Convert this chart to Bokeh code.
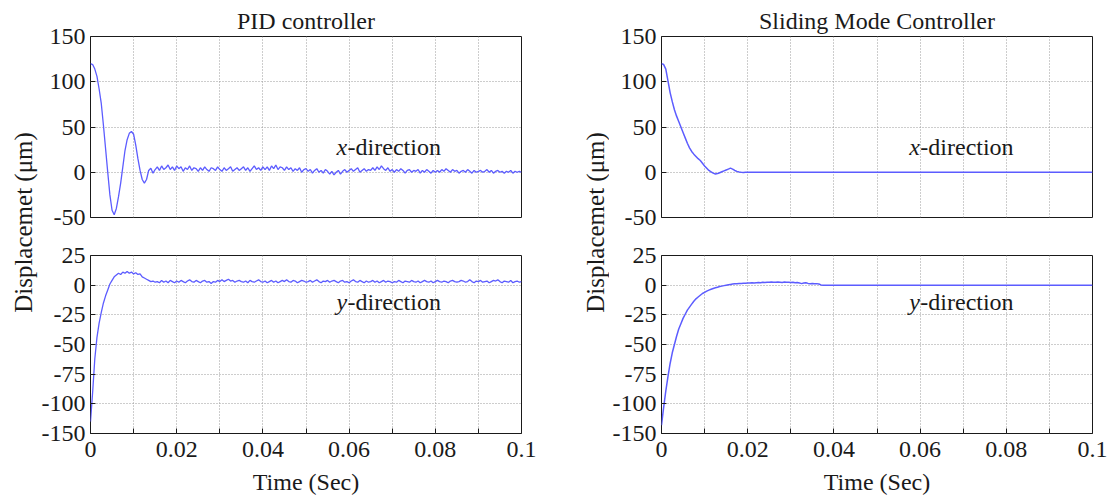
import math
from bokeh.plotting import figure
from bokeh.models import Range1d, FixedTicker, Label
from bokeh.layouts import row, column
from bokeh.embed import file_html
from bokeh.resources import INLINE

# ---------------- data ----------------
time_step = 0.0005  # sampling interval of the traces (s)

# PID controller, x-direction displacement (um), sampled every 0.5 ms from 0 to 0.1 s
pid_x = [120, 119, 114, 106, 92, 76, 52, 26, 0, -25, -42, -47, -40, -27, -12, 6, 24, 36, 43, 45,
         42, 30, 15, 2, -8, -12, -8, 2, 4.5, -1, 3,
         6, 2, 7, 3, 5, 8, 3, 6, 2, 7,
         4, 6, 1, 5, 3, 7, 2, 5, 4, 1,
         5, 2, 6, 3, 1, 5, 4, 2, 6, 3,
         1, 5, 2, 4, 6, 1, 3, 5, 2, 4,
         6, 2, 5, 1, 4, 7, 3, 5, 2, 6,
         3, 6, 2, 7, 4, 8, 3, 6, 5, 2,
         6, 3, 5, 1, 4, 2, 5, 0, 3, 4,
         1, 3, -1, 2, 4, 0, 2, -1, 3, 1,
         -2, 1, -3, 0, 2, -2, 1, 3, 0, 2,
         4, 1, 3, 5, 0, 2, 4, 1, 3, 2,
         5, 2, 6, 3, 7, 4, 2, 5, 1, 3,
         0, 3, 1, 4, 2, -1, 2, 3, 0, 2,
         1, 3, -1, 2, 0, 3, 1, -1, 2, 0,
         2, 0, 3, 1, 4, 2, 0, 3, 1, 2,
         -1, 1, 2, 0, 3, 1, -1, 2, 0, 1,
         2, 0, 1, 3, 0, 2, -1, 1, 2, 0,
         1, -1, 1, 0, 2, -1, 1, 0, 1, 0]

# PID controller, y-direction displacement (um)
pid_y = [-115, -90, -62, -44, -32, -23, -15, -9, -4, 1, 4, 7, 8.5, 10, 9, 11, 10, 11.5, 10, 11,
         9.5, 10.5, 9, 9.5, 7, 6, 5, 4, 3, 3.5, 2.5,
         3, 2, 4, 2.5, 3.5, 2, 4, 3, 2, 3.5,
         2.5, 4, 3, 2, 3.5, 4.5, 3, 2.5, 4, 3,
         2, 3.5, 4, 2.5, 3, 1.5, 3, 2.5, 4, 3,
         4.5, 3, 4, 5, 3.5, 4, 2.5, 3.5, 4, 3,
         2.5, 3.5, 2, 4, 3, 2.5, 3.5, 4.5, 3, 2.5,
         3.5, 2, 3, 4, 2.5, 3.5, 2, 3, 4, 3,
         4.5, 3, 2.5, 4, 3.5, 2, 3, 4, 3.5, 2.5,
         3, 4, 2.5, 3.5, 4.5, 3, 2, 3.5, 3, 4,
         2.5, 3.5, 4, 3, 2, 3.5, 4, 2.5, 3, 2,
         3.5, 4.5, 3, 2.5, 4, 3, 2, 3.5, 2.5, 3,
         4, 2.5, 3.5, 2, 3, 4, 2.5, 3.5, 3, 2,
         3, 2.5, 4, 3, 2, 3.5, 3, 2.5, 4, 3,
         2.5, 3.5, 2, 3, 4, 3, 2.5, 3.5, 2, 3,
         4, 3, 2.5, 3.5, 3, 2, 3.5, 4, 3, 2.5,
         3, 4, 3.5, 2.5, 3, 4.5, 3, 2, 3.5, 3,
         4, 2.5, 3, 3.5, 2, 3, 4, 3.5, 4.5, 3,
         2, 3.5, 3, 2.5, 4, 2, 3, 3.5, 2.5, 3]

# Sliding mode controller, x-direction (um), every 0.5 ms up to 0.02 s, then flat
smc_x = [120, 119, 114, 101, 88, 78, 69, 62, 56, 50, 44, 38, 32, 27, 23, 20, 17.5, 15, 13, 10,
         7, 4.5, 2, 0.5, -1, -2, -1.5, -0.5, 0.5, 1.5, 2.5, 3.5, 4.5, 3.5, 2, 1, 0.3, 0, -0.2, 0,
         0]
smc_x_final = 0

# Sliding mode controller, y-direction (um), every 0.5 ms up to 0.037 s, then flat
smc_y = [-118, -103, -89, -77, -66, -57, -50, -43, -37, -32.5, -28, -24.5, -21, -18.5, -16, -13.5,
         -11.5, -10, -8.5, -7, -6, -5, -4.2, -3.5, -2.8, -2.2, -1.7, -1.2, -0.8, -0.4, 0, 0.3, 0.6,
         0.9, 1.1, 1.2, 1.4, 1.5, 1.6, 1.7, 1.8, 1.9, 2, 1.8, 2.1, 2.2, 2, 2.4, 2.3, 2.5, 2.4, 2.6,
         2.5, 2.4, 2.6, 2.5, 2.3, 2.6, 2.4, 2.5, 2.2, 2.4, 2.1, 2.3, 1.9, 1.3, 1.8, 2.1, 1.5, 1.2,
         1.4, 1.1, 1.3, 1.0, 0.2, 0]
smc_y_final = 0
t_end = 0.1

x_major_ticks = [0, 0.02, 0.04, 0.06, 0.08, 0.1]
x_major_labels = ["0", "0.02", "0.04", "0.06", "0.08", "0.1"]
x_minor_ticks = [0.01, 0.03, 0.05, 0.07, 0.09]
x_grid_ticks = [0, 0.01, 0.02, 0.03, 0.04, 0.05, 0.06, 0.07, 0.08, 0.09, 0.1]
top_y_ticks = [-50, 0, 50, 100, 150]
top_y_labels = ["-50", "0", "50", "100", "150"]
bot_y_ticks = [-125, -100, -75, -50, -25, 0, 25]
bot_y_labels = ["-150", "-100", "-75", "-50", "-25", "0", "25"]

titles = ["PID controller", "Sliding Mode Controller"]
y_label = "Displacemet (\u03bcm)"
x_label = "Time (Sec)"

# ---------------- styling ----------------
FONT = "Liberation Serif"
FS = "24px"
LINE = "#5c5cff"
INK = "#1a1a1a"


def times(vals, final=None):
    t = [round(i * time_step, 5) for i in range(len(vals))]
    v = list(vals)
    if final is not None:
        t.append(t_end)
        v.append(final)
    return t, v


def make_fig(frame_w, frame_h, yr, yticks, ylabels, bottom, mbl, mbr, mbt, mbb, title=None):
    kw = dict(title=title) if title else {}
    p = figure(frame_width=frame_w, frame_height=frame_h,
               x_range=Range1d(0, 0.1), y_range=Range1d(*yr),
               toolbar_location=None, output_backend="svg",
               min_border_left=mbl, min_border_right=mbr,
               min_border_top=mbt, min_border_bottom=mbb,
               background_fill_color="white", border_fill_color="white", **kw)
    p.outline_line_color = INK
    p.outline_line_width = 1
    p.outline_line_alpha = 1
    if title:
        p.title.text_font = FONT
        p.title.text_font_size = FS
        p.title.text_font_style = "normal"
        p.title.text_color = INK
        p.title.align = "center"
        p.title.standoff = 5
    for ax in (p.xaxis[0], p.yaxis[0]):
        ax.axis_line_color = None
        ax.major_tick_in = 5
        ax.major_tick_out = 0
        ax.minor_tick_in = 5
        ax.minor_tick_out = 0
        ax.major_tick_line_color = INK
        ax.minor_tick_line_color = INK
        ax.major_label_text_font = FONT
        ax.major_label_text_font_size = FS
        ax.major_label_text_color = INK
    p.yaxis.major_label_standoff = 5
    p.yaxis.minor_tick_line_color = None
    p.xaxis.major_label_standoff = 8
    p.xaxis.ticker = FixedTicker(ticks=x_major_ticks, minor_ticks=x_minor_ticks)
    p.yaxis.ticker = FixedTicker(ticks=yticks)
    p.yaxis.major_label_overrides = dict(zip(yticks, ylabels))
    if bottom:
        p.xaxis.major_label_overrides = dict(zip(x_major_ticks, x_major_labels))
        p.xaxis.axis_label = x_label
        p.xaxis.axis_label_text_font = FONT
        p.xaxis.axis_label_text_font_size = FS
        p.xaxis.axis_label_text_font_style = "normal"
        p.xaxis.axis_label_text_color = INK
        p.xaxis.axis_label_standoff = 9
    else:
        p.xaxis.visible = False
    p.xgrid.ticker = FixedTicker(ticks=x_grid_ticks)
    p.ygrid.ticker = FixedTicker(ticks=yticks)
    for g in (p.xgrid[0], p.ygrid[0]):
        g.grid_line_color = "#9a9a9a"
        g.grid_line_dash = "1 2"
        g.grid_line_width = 1
    return p


def add_direction(p, x, y, axis_letter):
    p.add_layout(Label(x=x, y=y, text=axis_letter, text_font=FONT, text_font_size=FS,
                       text_font_style="italic", text_color=INK, text_baseline="alphabetic"))
    p.add_layout(Label(x=x, y=y, x_offset=11, text="-direction", text_font=FONT,
                       text_font_size=FS, text_color=INK, text_baseline="alphabetic"))


TOTAL_H = 497


def label_fig(w, cx, cy_from_top):
    p = figure(width=w, height=TOTAL_H, x_range=Range1d(0, w), y_range=Range1d(0, TOTAL_H),
               x_axis_type=None, y_axis_type=None, toolbar_location=None,
               output_backend="svg", min_border=0, outline_line_color=None,
               background_fill_color="white", border_fill_color="white")
    p.xgrid.visible = False
    p.ygrid.visible = False
    p.add_layout(Label(x=cx, y=TOTAL_H - cy_from_top, text=y_label, angle=math.pi / 2,
                       text_align="center", text_baseline="middle", text_font=FONT,
                       text_font_size="25px", text_color=INK))
    return p


# Left column (PID)
topL = make_fig(431, 181, (-50, 150), top_y_ticks, top_y_labels, False, 50, 58, 36, 19, titles[0])
t, v = times(pid_x)
topL.line(t, v, line_color=LINE, line_width=1.3)
add_direction(topL, 0.0571, 28, "x")

botL = make_fig(431, 178, (-125, 25), bot_y_ticks, bot_y_labels, True, 50, 58, 19, 64)
t, v = times(pid_y)
botL.line(t, v, line_color=LINE, line_width=1.3)
add_direction(botL, 0.0571, -14, "y")

# Right column (SMC)
topR = make_fig(431, 181, (-50, 150), top_y_ticks, top_y_labels, False, 50, 19, 36, 19, titles[1])
t, v = times(smc_x, smc_x_final)
topR.line(t, v, line_color=LINE, line_width=1.5)
add_direction(topR, 0.0575, 28, "x")

botR = make_fig(431, 178, (-125, 25), bot_y_ticks, bot_y_labels, True, 50, 19, 19, 64)
t, v = times(smc_y, smc_y_final)
botR.line(t, v, line_color=LINE, line_width=1.5)
add_direction(botR, 0.0575, -14, "y")

labL = label_fig(38, 22.5, 222)
labR = label_fig(30, 16, 222)

layout = row(labL, column(topL, botL), labR, column(topR, botR))

open("out.html", "w").write(file_html(layout, INLINE))
